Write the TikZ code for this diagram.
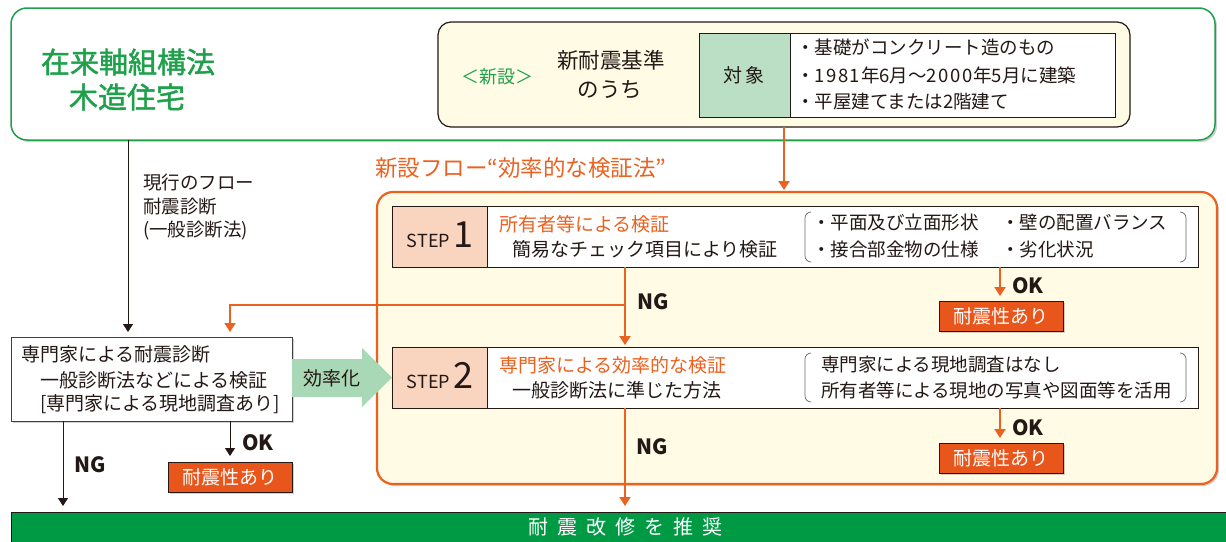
\documentclass[tikz,border=0pt]{standalone}
\usepackage{fontspec}
\setmainfont{Noto Sans CJK JP}
\usetikzlibrary{arrows.meta,shadows}
\definecolor{tgreen}{HTML}{1FA04B}
\definecolor{bargreen}{HTML}{009A44}
\definecolor{txt}{HTML}{231815}
\definecolor{cream}{HTML}{FFFBE5}
\definecolor{peach}{HTML}{F9D5BF}
\definecolor{objgreen}{HTML}{BADFC4}
\definecolor{arrgreen}{HTML}{A8D8B5}
\definecolor{orline}{HTML}{EB6120}
\definecolor{okfill}{HTML}{E8561B}
\newcommand\fsz[1]{\fontsize{#1}{#1}\selectfont}
\begin{document}
\begin{tikzpicture}[x=1pt,y=-1pt,
  every node/.style={inner sep=0pt,outer sep=0pt,text=txt},
  sh/.style={drop shadow={shadow xshift=2pt,shadow yshift=-2pt,opacity=0.3,fill=black!60}},
  frame/.style={draw=txt,line width=0.8pt},
  arrk/.style={draw=txt,line width=1pt,-{Triangle[width=10pt,length=8pt]}},
  arro/.style={draw=orline,line width=1.8pt,-{Triangle[width=11pt,length=9pt]}},
  okbox/.style={frame,fill=okfill,minimum width=124pt,minimum height=30pt,sh,text=white,font=\fsz{19}},
  okng/.style={font=\fsz{21}\bfseries},
  paren/.style={draw=black!60,line width=0.7pt},
  t18/.style={anchor=west,font=\fsz{18.5}},
  t19/.style={anchor=west,font=\fsz{19}},
  ttl/.style={text=tgreen,font=\fsz{29}\addfontfeature{FakeBold=1.6}}]
\useasboundingbox (0,0) rectangle (1226,541);

% top green box
\node[draw=tgreen,line width=1.5pt,rounded corners=16pt,fill=white,sh,minimum width=1204pt,minimum height=132pt] (top) at (613,74) {};
\node[ttl] (t1) at (128,62) {在来軸組構法};
\node[ttl] (t2) at (127,97) {木造住宅};

% inner cream box
\node[draw=txt,line width=1.2pt,rounded corners=13pt,fill=cream,minimum width=692pt,minimum height=105pt] (inner) at (784,74.5) {};
\node[text=tgreen,font=\fsz{18}] (shinsetsu) at (497,77) {＜新設＞};
\node[font=\fsz{21.5}] (kijun1) at (611,60) {新耐震基準};
\node[font=\fsz{21.5}] (kijun2) at (610,90) {のうち};
\node[frame,fill=objgreen,minimum width=91pt,minimum height=84pt] (obj) at (744.5,75) {};
\node[font=\fsz{19}] (objt) at (744,75) {対\hspace{3pt}象};
\node[frame,fill=white,minimum width=325pt,minimum height=84pt] (objlist) at (952.5,75) {};
\node[t18] (o1) at (796,47) {・基礎がコンクリート造のもの};
\node[t18] (o2) at (796,75) {・1\hspace{1.5pt}9\hspace{1.5pt}8\hspace{1.5pt}1\hspace{1pt}年6月〜2\hspace{1.5pt}0\hspace{1.5pt}0\hspace{1.5pt}0\hspace{1pt}年5月に建築};
\node[t18] (o3) at (796,102) {・平屋建てまたは2階建て};

% left flow texts
\node[t18] (l1) at (143,183) {現行のフロー};
\node[t18] (l2) at (143,207) {耐震診断};
\node[t18] (l3) at (143,231) {(一般診断法)};

% orange flow title and box
\node[anchor=west,text=orline,font=\fsz{22.5}] (ftitle) at (375,168) {新設フロー“効率的な検証法”};
\node[draw=orline,line width=2.2pt,rounded corners=16pt,fill=cream,sh,minimum width=840pt,minimum height=292pt] (obox) at (797,338) {};

\coordinate (xa) at (784,0);
\coordinate (xk) at (128,0);
\coordinate (xs) at (625,0);
\coordinate (xo) at (1000,0);
\coordinate (xb) at (230,0);
\coordinate (xn) at (63,0);
\coordinate (br) at (625,305);

\draw[arro,shorten >=2pt] (inner.south -| xa) -- (obox.north -| xa);

% step 1
\node[frame,fill=peach,minimum width=95pt,minimum height=61pt] (s1a) at (439.5,236.5) {};
\node[frame,fill=white,minimum width=711pt,minimum height=61pt] (s1b) at (842.5,236.5) {};
\node[anchor=base,font=\fsz{18}] (s1l) at (440,247) {STEP\,{\fsz{36}1}};
\node[t19,text=orline] (s1t1) at (499,224) {所有者等による検証};
\node[t19] (s1t2) at (512,249) {簡易なチェック項目により検証};
\draw[paren] (811,212) to[out=180,in=90] (805,218) -- (805,256) to[out=-90,in=180] (811,262);
\draw[paren] (1180,212) to[out=0,in=90] (1186,218) -- (1186,256) to[out=-90,in=0] (1180,262);
\node[t18] (c1) at (812,223) {・平面及び立面形状};
\node[t18] (c2) at (1001,223) {・壁の配置バランス};
\node[t18] (c3) at (812,249) {・接合部金物の仕様};
\node[t18] (c4) at (1001,249) {・劣化状況};

% step 2
\node[frame,fill=peach,minimum width=95pt,minimum height=61pt] (s2a) at (439.5,377.5) {};
\node[frame,fill=white,minimum width=711pt,minimum height=61pt] (s2b) at (842.5,377.5) {};
\node[anchor=base,font=\fsz{18}] (s2l) at (440,388) {STEP\,{\fsz{36}2}};
\node[t19,text=orline] (s2t1) at (499,365) {専門家による効率的な検証};
\node[t19] (s2t2) at (512,390) {一般診断法に準じた方法};
\draw[paren] (811,353) to[out=180,in=90] (805,359) -- (805,396) to[out=-90,in=180] (811,402);
\draw[paren] (1180,353) to[out=0,in=90] (1186,359) -- (1186,396) to[out=-90,in=0] (1180,402);
\node[t18] (d1) at (821,365) {専門家による現地調査はなし};
\node[t18] (d2) at (821,390) {所有者等による現地の写真や図面等を活用};

% ok boxes
\node[okbox] (ok1) at (1001,316) {耐震性あり};
\node[okbox] (ok2) at (1001,458) {耐震性あり};

% expert box
\node[frame,draw=black!75,fill=white,sh,minimum width=281pt,minimum height=84pt] (exp) at (151.5,379) {};
\node[t19] (e1) at (21,354) {専門家による耐震診断};
\node[t19] (e2) at (40,380) {一般診断法などによる検証};
\node[t19] (e3) at (40,404) {[専門家による現地調査あり]};
\node[okbox] (ok0) at (230,477) {耐震性あり};

% green efficiency arrow
\fill[arrgreen] (292,359) -- (362,359) -- (362,348) -- (392,377.5) -- (362,407) -- (362,397) -- (292,397) -- cycle;
\node[font=\fsz{19}] (eff) at (332,378) {効率化};

% bottom bar
\node[draw=txt,line width=0.8pt,fill=bargreen,minimum width=1215pt,minimum height=30pt,anchor=north west] (bar) at (11,512) {};
\node[text=white,font=\fsz{20}] (bart) at (625,527) {耐\hspace{9pt}震\hspace{9pt}改\hspace{9pt}修\hspace{9pt}を\hspace{9pt}推\hspace{9pt}奨};

% connectors
\draw[arrk,shorten >=5pt] (top.south -| xk) -- (exp.north -| xk);
\draw[arro,shorten >=2pt] (s1b.south -| xs) -- (s2b.north -| xs);
\draw[arro,shorten >=5pt] (br) -- (br -| xb) -- (exp.north -| xb);
\draw[arro,shorten >=5pt] (s1b.south -| xo) -- (ok1.north -| xo);
\draw[arro,shorten >=5pt] (s2b.south -| xo) -- (ok2.north -| xo);
\draw[arro,shorten >=6pt] (s2b.south -| xs) -- (bar.north -| xs);
\draw[arrk,shorten >=6pt] (exp.south -| xb) -- (ok0.north -| xb);
\draw[arrk,shorten >=6pt] (exp.south -| xn) -- (bar.north -| xn);

\node[okng] (ng1) at (653,302) {NG};
\node[okng] (ng2) at (652,447) {NG};
\node[okng] (okl1) at (1028,286) {OK};
\node[okng] (okl2) at (1028,428) {OK};
\node[okng] (ng0) at (90,465) {NG};
\node[okng] (okl0) at (258,443) {OK};
\end{tikzpicture}
\end{document}
